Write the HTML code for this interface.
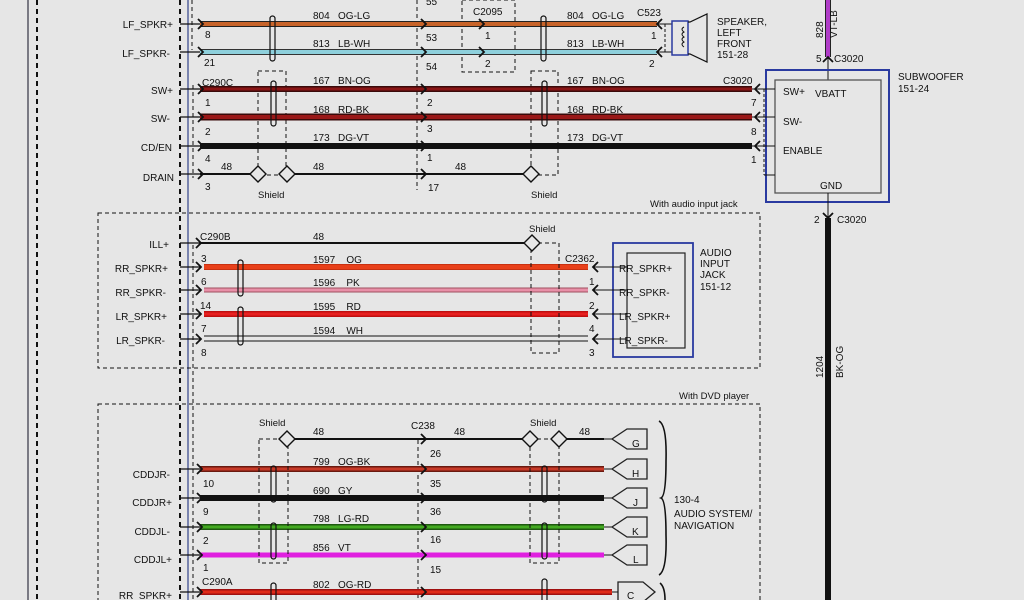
<!DOCTYPE html>
<html><head><meta charset="utf-8"><style>
html,body{margin:0;padding:0;background:#e6e6e6;}
svg{display:block;font-family:"Liberation Sans",sans-serif;font-size:10px;fill:#111;}
text{white-space:pre;}
</style></head><body>
<svg width="1024" height="600" viewBox="0 0 1024 600" xmlns="http://www.w3.org/2000/svg">
<rect width="1024" height="600" fill="#e6e6e6"/>
<line x1="28" y1="0" x2="28" y2="600" stroke="#334" stroke-width="1.2"/>
<line x1="37" y1="0" x2="37" y2="600" stroke="#111" stroke-width="2" stroke-dasharray="5,4"/>
<line x1="180" y1="0" x2="180" y2="600" stroke="#111" stroke-width="2" stroke-dasharray="5,4"/>
<line x1="188" y1="0" x2="188" y2="600" stroke="#33448a" stroke-width="1.2"/>
<line x1="192" y1="0" x2="192" y2="50" stroke="#111" stroke-width="1" stroke-dasharray="4,3"/>
<line x1="193" y1="85" x2="193" y2="178" stroke="#111" stroke-width="1" stroke-dasharray="4,3"/>
<line x1="193" y1="245" x2="193" y2="600" stroke="#111" stroke-width="1" stroke-dasharray="4,3"/>
<line x1="417" y1="0" x2="417" y2="190" stroke="#111" stroke-width="1" stroke-dasharray="4,3"/>
<line x1="418" y1="440" x2="418" y2="600" stroke="#111" stroke-width="1" stroke-dasharray="4,3"/>
<rect x="462" y="0" width="53" height="72" fill="none" stroke="#111" stroke-dasharray="4,3"/>
<rect x="258" y="71" width="28" height="104" fill="none" stroke="#111" stroke-dasharray="4,3"/>
<rect x="531" y="71" width="27" height="104" fill="none" stroke="#111" stroke-dasharray="4,3"/>

<g stroke-linecap="butt">
<line x1="200" y1="24" x2="657" y2="24" stroke="#222" stroke-width="6"/>
<line x1="200" y1="24" x2="657" y2="24" stroke="#c8642a" stroke-width="4"/>
<line x1="200" y1="52" x2="657" y2="52" stroke="#333" stroke-width="6"/>
<line x1="200" y1="52" x2="657" y2="52" stroke="#8ed0dc" stroke-width="4"/>
<line x1="200" y1="89" x2="752" y2="89" stroke="#3a0a0a" stroke-width="6"/>
<line x1="200" y1="89" x2="752" y2="89" stroke="#8a1515" stroke-width="3"/>
<line x1="200" y1="117" x2="752" y2="117" stroke="#3a0a0a" stroke-width="7"/>
<line x1="200" y1="117" x2="752" y2="117" stroke="#9a1818" stroke-width="4"/>
<line x1="200" y1="146" x2="752" y2="146" stroke="#111" stroke-width="6"/>
<line x1="200" y1="174" x2="258" y2="174" stroke="#111" stroke-width="2"/>
<line x1="287" y1="174" x2="530" y2="174" stroke="#111" stroke-width="2"/>
</g>
<g stroke="#111" stroke-width="1.2">
<line x1="180" y1="24" x2="200" y2="24"/><line x1="180" y1="52" x2="200" y2="52"/>
<line x1="180" y1="89" x2="200" y2="89"/><line x1="180" y1="117" x2="200" y2="117"/>
<line x1="180" y1="146" x2="200" y2="146"/><line x1="180" y1="174" x2="200" y2="174"/>
</g>
<g fill="none" stroke="#111" stroke-width="1.8">
<path d="M198 19 l5 5 -5 5"/><path d="M198 47 l5 5 -5 5"/><path d="M198 84 l5 5 -5 5"/><path d="M198 112 l5 5 -5 5"/><path d="M198 141 l5 5 -5 5"/><path d="M198 169 l5 5 -5 5"/>
<path d="M421 19 l5 5 -5 5"/><path d="M421 47 l5 5 -5 5"/><path d="M421 84 l5 5 -5 5"/><path d="M421 112 l5 5 -5 5"/><path d="M421 141 l5 5 -5 5"/><path d="M421 169 l5 5 -5 5"/>
<path d="M479 19 l5 5 -5 5"/><path d="M479 47 l5 5 -5 5"/>
<path d="M662 19 l-5 5 5 5"/><path d="M662 47 l-5 5 5 5"/>
<path d="M760 84 l-5 5 5 5"/><path d="M760 112 l-5 5 5 5"/><path d="M760 141 l-5 5 5 5"/>
</g>
<g fill="none" stroke="#111" stroke-width="1.2">
<rect x="270" y="16" width="5" height="45" rx="2.5"/><rect x="541" y="16" width="5" height="45" rx="2.5"/>
<rect x="271" y="81" width="5" height="45" rx="2.5"/><rect x="542" y="81" width="5" height="45" rx="2.5"/>
</g>
<g fill="#e6e6e6" stroke="#111" stroke-width="1.4">
<path d="M258 166 l8 8 -8 8 -8 -8z"/><path d="M287 166 l8 8 -8 8 -8 -8z"/><path d="M531 166 l8 8 -8 8 -8 -8z"/>
</g>
<line x1="657" y1="24" x2="672" y2="24" stroke="#111"/><line x1="657" y1="52" x2="672" y2="52" stroke="#111"/>
<line x1="665" y1="24" x2="665" y2="52" stroke="#111" stroke-dasharray="3,2"/>
<rect x="672" y="21" width="16" height="34" fill="none" stroke="#2a3aa0" stroke-width="1.5"/>
<path d="M688 22 L690 22 L707 14 L707 62 L690 54 L688 54" fill="none" stroke="#111" stroke-width="1.2"/>
<path d="M684 27 q-4 2 0 5 q-4 2 0 5 q-4 2 0 5 q-4 2 0 5" fill="none" stroke="#111"/>
<line x1="828" y1="0" x2="828" y2="57" stroke="#222" stroke-width="6"/>
<line x1="828" y1="0" x2="828" y2="57" stroke="#b03cc8" stroke-width="4"/>
<path d="M823 62 l5 -5 5 5" fill="none" stroke="#111" stroke-width="1.8"/>
<line x1="828" y1="58" x2="828" y2="80" stroke="#111"/>
<rect x="766" y="70" width="123" height="132" fill="none" stroke="#2a3aa0" stroke-width="2"/>
<rect x="775" y="80" width="106" height="113" fill="none" stroke="#555" stroke-width="1.3"/>
<g stroke="#111"><line x1="752" y1="89" x2="775" y2="89"/><line x1="752" y1="117" x2="775" y2="117"/><line x1="752" y1="146" x2="775" y2="146"/><line x1="764" y1="175" x2="775" y2="175"/></g>
<line x1="764" y1="89" x2="764" y2="175" stroke="#111" stroke-dasharray="3,2"/>
<line x1="828" y1="193" x2="828" y2="218" stroke="#111"/>
<path d="M823 213 l5 5 5 -5" fill="none" stroke="#111" stroke-width="1.8"/>
<line x1="828" y1="218" x2="828" y2="600" stroke="#111" stroke-width="6"/>

<g text-anchor="end">
<text x="173" y="28">LF_SPKR+</text><text x="170" y="57">LF_SPKR-</text>
<text x="173" y="94">SW+</text><text x="170" y="122">SW-</text>
<text x="172" y="151">CD/EN</text><text x="174" y="181">DRAIN</text>
</g>
<text x="205" y="38">8</text><text x="204" y="66">21</text><text x="202" y="86">C290C</text>
<text x="205" y="106">1</text><text x="205" y="135">2</text><text x="205" y="162">4</text><text x="205" y="190">3</text>
<text x="221" y="170">48</text><text x="313" y="170">48</text><text x="455" y="170">48</text>
<text x="313" y="19">804   OG-LG</text><text x="313" y="47">813   LB-WH</text>
<text x="313" y="84">167   BN-OG</text><text x="313" y="113">168   RD-BK</text><text x="313" y="141">173   DG-VT</text>
<text x="567" y="19">804   OG-LG</text><text x="567" y="47">813   LB-WH</text>
<text x="567" y="84">167   BN-OG</text><text x="567" y="113">168   RD-BK</text><text x="567" y="141">173   DG-VT</text>
<text x="426" y="5">55</text><text x="426" y="41">53</text><text x="426" y="70">54</text>
<text x="427" y="106">2</text><text x="427" y="132">3</text><text x="427" y="161">1</text><text x="428" y="191">17</text>
<text x="473" y="15">C2095</text><text x="485" y="39">1</text><text x="485" y="67">2</text>
<text x="637" y="16">C523</text><text x="651" y="39">1</text><text x="649" y="67">2</text>
<text x="258" y="198" font-size="9.5">Shield</text><text x="531" y="198" font-size="9.5">Shield</text>
<text x="717" y="25">SPEAKER,</text><text x="717" y="36">LEFT</text><text x="717" y="47">FRONT</text><text x="717" y="58">151-28</text>
<text x="723" y="84">C3020</text><text x="751" y="106">7</text><text x="751" y="135">8</text><text x="751" y="163">1</text>
<text x="783" y="95">SW+</text><text x="815" y="97">VBATT</text><text x="783" y="125">SW-</text><text x="783" y="154">ENABLE</text><text x="820" y="189">GND</text>
<text x="898" y="80">SUBWOOFER</text><text x="898" y="92">151-24</text>
<text x="816" y="62">5</text><text x="834" y="62">C3020</text>
<text x="814" y="223">2</text><text x="837" y="223">C3020</text>
<text transform="translate(823,38) rotate(-90)">828</text><text transform="translate(837,38) rotate(-90)">VT-LB</text>
<text transform="translate(823,378) rotate(-90)">1204</text><text transform="translate(843,378) rotate(-90)">BK-OG</text>
<text x="650" y="207" font-size="9.5">With audio input jack</text>

<rect x="98" y="213" width="662" height="155" fill="none" stroke="#111" stroke-dasharray="4,3"/>
<g stroke="#111" stroke-width="1.2">
<line x1="180" y1="243" x2="200" y2="243"/><line x1="180" y1="267" x2="200" y2="267"/><line x1="180" y1="290" x2="200" y2="290"/><line x1="180" y1="314" x2="200" y2="314"/><line x1="180" y1="339" x2="200" y2="339"/>
</g>
<line x1="200" y1="243" x2="524" y2="243" stroke="#111" stroke-width="2"/>
<line x1="204" y1="267" x2="588" y2="267" stroke="#c83010" stroke-width="6"/>
<line x1="204" y1="267" x2="588" y2="267" stroke="#e8401a" stroke-width="4"/>
<line x1="204" y1="290" x2="588" y2="290" stroke="#a05060" stroke-width="5"/>
<line x1="204" y1="290" x2="588" y2="290" stroke="#e890a8" stroke-width="3"/>
<line x1="204" y1="314" x2="588" y2="314" stroke="#c01010" stroke-width="6"/>
<line x1="204" y1="314" x2="588" y2="314" stroke="#e82020" stroke-width="3"/>
<line x1="204" y1="336" x2="588" y2="336" stroke="#111" stroke-width="1"/>
<line x1="204" y1="341" x2="588" y2="341" stroke="#111" stroke-width="1"/>
<g fill="none" stroke="#111" stroke-width="1.8">
<path d="M196 238 l5 5 -5 5"/><path d="M196 262 l5 5 -5 5"/><path d="M196 285 l5 5 -5 5"/><path d="M196 309 l5 5 -5 5"/><path d="M196 334 l5 5 -5 5"/>
<path d="M598 262 l-5 5 5 5"/><path d="M598 285 l-5 5 5 5"/><path d="M598 309 l-5 5 5 5"/><path d="M598 334 l-5 5 5 5"/>
</g>
<g fill="none" stroke="#111" stroke-width="1.2">
<rect x="238" y="260" width="5" height="36" rx="2.5"/><rect x="238" y="307" width="5" height="38" rx="2.5"/>
</g>
<rect x="531" y="243" width="28" height="110" fill="none" stroke="#111" stroke-dasharray="4,3"/>
<path d="M532 235 l8 8 -8 8 -8 -8z" fill="#e6e6e6" stroke="#111" stroke-width="1.4"/>
<rect x="613" y="243" width="80" height="114" fill="none" stroke="#2a3aa0" stroke-width="1.8"/>
<rect x="627" y="253" width="58" height="95" fill="none" stroke="#222" stroke-width="1.2"/>
<g stroke="#111"><line x1="593" y1="267" x2="627" y2="267"/><line x1="593" y1="290" x2="627" y2="290"/><line x1="593" y1="314" x2="627" y2="314"/><line x1="593" y1="339" x2="627" y2="339"/></g>
<g text-anchor="end">
<text x="169" y="248">ILL+</text><text x="168" y="272">RR_SPKR+</text><text x="166" y="296">RR_SPKR-</text><text x="167" y="320">LR_SPKR+</text><text x="165" y="344">LR_SPKR-</text>
</g>
<text x="200" y="240">C290B</text><text x="201" y="262">3</text><text x="201" y="285">6</text><text x="200" y="309">14</text><text x="201" y="332">7</text><text x="201" y="356">8</text>
<text x="313" y="240">48</text><text x="313" y="263">1597    OG</text><text x="313" y="286">1596    PK</text><text x="313" y="310">1595    RD</text><text x="313" y="334">1594    WH</text>
<text x="529" y="232" font-size="9.5">Shield</text><text x="565" y="262">C2362</text>
<text x="589" y="285">1</text><text x="589" y="309">2</text><text x="589" y="332">4</text><text x="589" y="356">3</text>
<text x="619" y="272">RR_SPKR+</text><text x="619" y="296">RR_SPKR-</text><text x="619" y="320">LR_SPKR+</text><text x="619" y="344">LR_SPKR-</text>
<text x="700" y="256">AUDIO</text><text x="700" y="267">INPUT</text><text x="700" y="278">JACK</text><text x="700" y="290">151-12</text>
<text x="679" y="399" font-size="9.5">With DVD player</text>

<rect x="98" y="404" width="662" height="200" fill="none" stroke="#111" stroke-dasharray="4,3"/>
<line x1="294" y1="439" x2="523" y2="439" stroke="#111" stroke-width="2"/>
<line x1="567" y1="439" x2="604" y2="439" stroke="#111" stroke-width="2"/>
<line x1="200" y1="469" x2="604" y2="469" stroke="#6a1a10" stroke-width="6"/>
<line x1="200" y1="469" x2="604" y2="469" stroke="#c83a28" stroke-width="3"/>
<line x1="200" y1="498" x2="604" y2="498" stroke="#111" stroke-width="6"/>
<line x1="200" y1="527" x2="604" y2="527" stroke="#1e5a10" stroke-width="6"/>
<line x1="200" y1="527" x2="604" y2="527" stroke="#44aa22" stroke-width="3"/>
<line x1="200" y1="555" x2="604" y2="555" stroke="#e020e0" stroke-width="5"/>
<line x1="200" y1="592" x2="612" y2="592" stroke="#a01010" stroke-width="6"/>
<line x1="200" y1="592" x2="612" y2="592" stroke="#e02a18" stroke-width="3"/>
<g stroke="#111" stroke-width="1.2">
<line x1="180" y1="469" x2="200" y2="469"/><line x1="180" y1="498" x2="200" y2="498"/><line x1="180" y1="527" x2="200" y2="527"/><line x1="180" y1="555" x2="200" y2="555"/><line x1="180" y1="592" x2="200" y2="592"/>
</g>
<g fill="none" stroke="#111" stroke-width="1.8">
<path d="M197 464 l5 5 -5 5"/><path d="M197 493 l5 5 -5 5"/><path d="M197 522 l5 5 -5 5"/><path d="M197 550 l5 5 -5 5"/><path d="M197 587 l5 5 -5 5"/>
<path d="M421 434 l5 5 -5 5"/><path d="M421 464 l5 5 -5 5"/><path d="M421 493 l5 5 -5 5"/><path d="M421 522 l5 5 -5 5"/><path d="M421 550 l5 5 -5 5"/><path d="M421 587 l5 5 -5 5"/>
</g>
<rect x="259" y="439" width="29" height="124" fill="none" stroke="#111" stroke-dasharray="4,3"/>
<rect x="530" y="439" width="29" height="124" fill="none" stroke="#111" stroke-dasharray="4,3"/>
<g fill="#e6e6e6" stroke="#111" stroke-width="1.4">
<path d="M287 431 l8 8 -8 8 -8 -8z"/><path d="M530 431 l8 8 -8 8 -8 -8z"/><path d="M559 431 l8 8 -8 8 -8 -8z"/>
</g>
<g fill="none" stroke="#111" stroke-width="1.2">
<rect x="271" y="466" width="5" height="36" rx="2.5"/><rect x="271" y="523" width="5" height="36" rx="2.5"/><rect x="271" y="583" width="5" height="20" rx="2.5"/>
<rect x="542" y="466" width="5" height="36" rx="2.5"/><rect x="542" y="523" width="5" height="36" rx="2.5"/><rect x="542" y="579" width="5" height="24" rx="2.5"/>
</g>
<g fill="#e6e6e6" stroke="#222" stroke-width="1.3">
<path d="M647 429 H627 L612 439 L627 449 H647 Z"/><path d="M647 459 H627 L612 469 L627 479 H647 Z"/><path d="M647 488 H627 L612 498 L627 508 H647 Z"/><path d="M647 517 H627 L612 527 L627 537 H647 Z"/><path d="M647 545 H627 L612 555 L627 565 H647 Z"/>
<path d="M618 582 H643 L655 592 L643 602 H618 Z"/>
</g>
<g stroke="#111"><line x1="604" y1="439" x2="612" y2="439"/><line x1="604" y1="469" x2="612" y2="469"/><line x1="604" y1="498" x2="612" y2="498"/><line x1="604" y1="527" x2="612" y2="527"/><line x1="604" y1="555" x2="612" y2="555"/><line x1="612" y1="592" x2="618" y2="592"/></g>
<text x="632" y="447">G</text><text x="632" y="477">H</text><text x="633" y="506">J</text><text x="632" y="535">K</text><text x="633" y="563">L</text><text x="627" y="599">C</text>
<path d="M659 421 q8 4 7 40 q0 35 -5 37 q5 2 5 37 q1 36 -7 40" fill="none" stroke="#111" stroke-width="1.6"/>
<path d="M660 583 q5 4 5 17" fill="none" stroke="#111" stroke-width="1.6"/>
<text x="674" y="503">130-4</text><text x="674" y="517">AUDIO SYSTEM/</text><text x="674" y="529">NAVIGATION</text>
<g text-anchor="end">
<text x="170" y="478">CDDJR-</text><text x="172" y="506">CDDJR+</text><text x="170" y="535">CDDJL-</text><text x="172" y="563">CDDJL+</text><text x="172" y="599">RR_SPKR+</text>
</g>
<text x="203" y="487">10</text><text x="203" y="515">9</text><text x="203" y="544">2</text><text x="203" y="571">1</text><text x="202" y="585">C290A</text>
<text x="259" y="426" font-size="9.5">Shield</text><text x="530" y="426" font-size="9.5">Shield</text>
<text x="313" y="435">48</text><text x="411" y="429">C238</text><text x="454" y="435">48</text><text x="579" y="435">48</text>
<text x="313" y="465">799   OG-BK</text><text x="313" y="494">690   GY</text><text x="313" y="522">798   LG-RD</text><text x="313" y="551">856   VT</text><text x="313" y="588">802   OG-RD</text>
<text x="430" y="457">26</text><text x="430" y="487">35</text><text x="430" y="515">36</text><text x="430" y="543">16</text><text x="430" y="573">15</text>
</svg>
</body></html>
